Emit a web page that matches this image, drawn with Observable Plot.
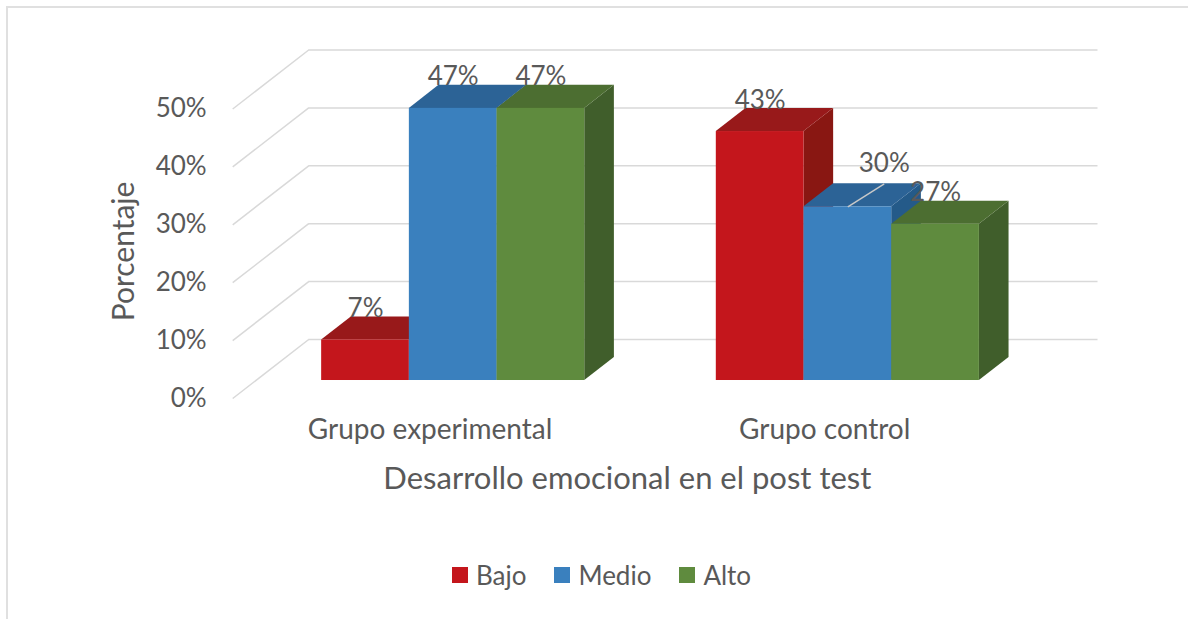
<!DOCTYPE html>
<html>
<head>
<meta charset="utf-8">
<script src="https://cdn.jsdelivr.net/npm/d3@7"></script>
<script src="https://cdn.jsdelivr.net/npm/@observablehq/plot@0.6"></script>
<style>
  html, body { margin: 0; padding: 0; background: #fff; overflow: hidden; }
  #frame { position: absolute; left: 6px; top: 6px; width: 1400px; height: 900px;
           border-left: 2px solid #e0e0e0; border-top: 2px solid #e0e0e0; pointer-events: none; }
  #chart { position: absolute; left: 0; top: 0; }
  #legend { position: absolute; top: 560px; left: 0; width: 1188px; height: 30px; padding-left: 15px;
            box-sizing: border-box; display: flex; justify-content: center; align-items: center;
            gap: 28px; font-family: Lato, "Open Sans", sans-serif; font-size: 26px; color: #595959; }
  #legend .item { display: flex; align-items: center; gap: 8px; line-height: 30px; }
  #legend .sw { width: 16px; height: 16px; display: inline-block; }
</style>
</head>
<body>
<div id="chart"></div>
<div id="legend"></div>
<div id="frame"></div>
<script>
// ---- data ----
const groups = ["Grupo experimental", "Grupo control"];
const levels = ["Bajo", "Medio", "Alto"];
const bajo  = [7, 43];
const medio = [47, 30];
const alto  = [47, 27];
const yTicks = [0, 10, 20, 30, 40, 50];
const xTitle = "Desarrollo emocional en el post test";
const yTitle = "Porcentaje";

// ---- style / layout ----
const colors = {
  Bajo:  { front: "#c4161c", top: "#98191a", side: "#891712" },
  Medio: { front: "#3a80be", top: "#2c6396", side: "#245a89" },
  Alto:  { front: "#5f8b3e", top: "#4c6e31", side: "#405e2b" }
};
const textColor = "#595959";
const gridColor = "#d9d9d9";
const CAT = 4.5;             // slots per category (3 bars + gap)
const X0 = -0.75, X1 = groups.length * CAT - 0.75;
const DEPTH_X = 0.8666;      // full depth shift, in slot units
const DEPTH_Y = 10.19;       // full depth shift, in % units
const BF = 0.305, BB = 0.695; // bar front/back depth fractions
const labelNudge = { "Grupo control|Medio": { x: 0.415, y: 2.1 } };

const series = { Bajo: bajo, Medio: medio, Alto: alto };
const rows = [];
groups.forEach((g, gi) => levels.forEach((l, li) =>
  rows.push({ group: g, level: l, value: series[l][gi], pos: gi * CAT + li })));
const key = r => r.group + "|" + r.level;

const sides = rows.flatMap(r => [BF, BB].map(d => ({
  ...r, x: r.pos + 1 + d * DEPTH_X, y1: d * DEPTH_Y, y2: r.value + d * DEPTH_Y })));
const tops = rows.flatMap(r => [BF, BB].map(d => ({
  ...r, y: r.value + d * DEPTH_Y, x1: r.pos + d * DEPTH_X, x2: r.pos + 1 + d * DEPTH_X })));

const nud = r => labelNudge[key(r)] || { x: 0, y: 0 };
const leaders = rows.filter(r => labelNudge[key(r)]);

const chart = Plot.plot({
  width: 1188,
  height: 545,
  style: { fontFamily: "Lato, 'Open Sans', sans-serif", fontSize: "26px", color: textColor, background: "#fff", overflow: "visible" },
  x: { type: "linear", domain: [X0, X1], range: [232.2, 1021.5], axis: null },
  y: { type: "linear", domain: [0, 50], range: [398, 108.5], axis: null },
  color: { type: "identity" },
  marks: [
    // back wall gridlines
    Plot.ruleY(yTicks, { y: t => t + DEPTH_Y, x1: X0 + DEPTH_X, x2: X1 + DEPTH_X, stroke: gridColor, strokeWidth: 1.5 }),
    // left wall gridlines
    Plot.link(yTicks, { x1: X0, y1: t => t, x2: X0 + DEPTH_X, y2: t => t + DEPTH_Y, stroke: gridColor, strokeWidth: 1.5 }),
    // y tick labels
    Plot.text(yTicks, { x: X0, y: t => t, text: t => t + "%", textAnchor: "end", dx: -26, lineAnchor: "middle", fill: textColor, fontSize: 26 }),
    // bars: side faces, top faces, front faces
    Plot.areaY(sides, { x: "x", y1: "y1", y2: "y2", z: key, fill: r => colors[r.level].side }),
    Plot.areaX(tops, { y: "y", x1: "x1", x2: "x2", z: key, fill: r => colors[r.level].top }),
    Plot.rect(rows, {
      x1: r => r.pos + BF * DEPTH_X, x2: r => r.pos + 1 + BF * DEPTH_X,
      y1: BF * DEPTH_Y, y2: r => r.value + BF * DEPTH_Y,
      fill: r => colors[r.level].front
    }),
    // leader line for moved label
    Plot.link(leaders, {
      x1: r => r.pos + 0.5 + BF * DEPTH_X, y1: r => r.value + BF * DEPTH_Y,
      x2: r => r.pos + 0.5 + BF * DEPTH_X + nud(r).x, y2: r => r.value + BB * DEPTH_Y,
      stroke: "#c8c8c8", strokeWidth: 1.5
    }),
    // data labels
    Plot.text(rows, {
      x: r => r.pos + 0.5 + BF * DEPTH_X + nud(r).x,
      y: r => r.value + BB * DEPTH_Y + nud(r).y,
      text: r => r.value + "%", lineAnchor: "bottom", fill: textColor, fontSize: 26
    }),
    // category labels
    Plot.text(groups, { x: (g, i) => i * CAT + 1.5, y: 0, dy: 40, text: g => g, lineAnchor: "bottom", fill: textColor, fontSize: 28 }),
    // x title
    Plot.text([xTitle], { x: (X0 + X1) / 2, y: 0, dy: 90, text: d => d, lineAnchor: "bottom", fill: textColor, fontSize: 31 }),
    // y title
    Plot.text([yTitle], { x: X0, y: 25.4, dx: -99, rotate: -90, text: d => d, lineAnchor: "bottom", fill: textColor, fontSize: 30 })
  ]
});
document.getElementById("chart").appendChild(chart);

// legend
const legend = document.getElementById("legend");
levels.forEach(l => {
  const item = document.createElement("div");
  item.className = "item";
  const sw = document.createElement("span");
  sw.className = "sw";
  sw.style.background = colors[l].front;
  const tx = document.createElement("span");
  tx.textContent = l;
  item.appendChild(sw);
  item.appendChild(tx);
  legend.appendChild(item);
});
</script>
</body>
</html>
